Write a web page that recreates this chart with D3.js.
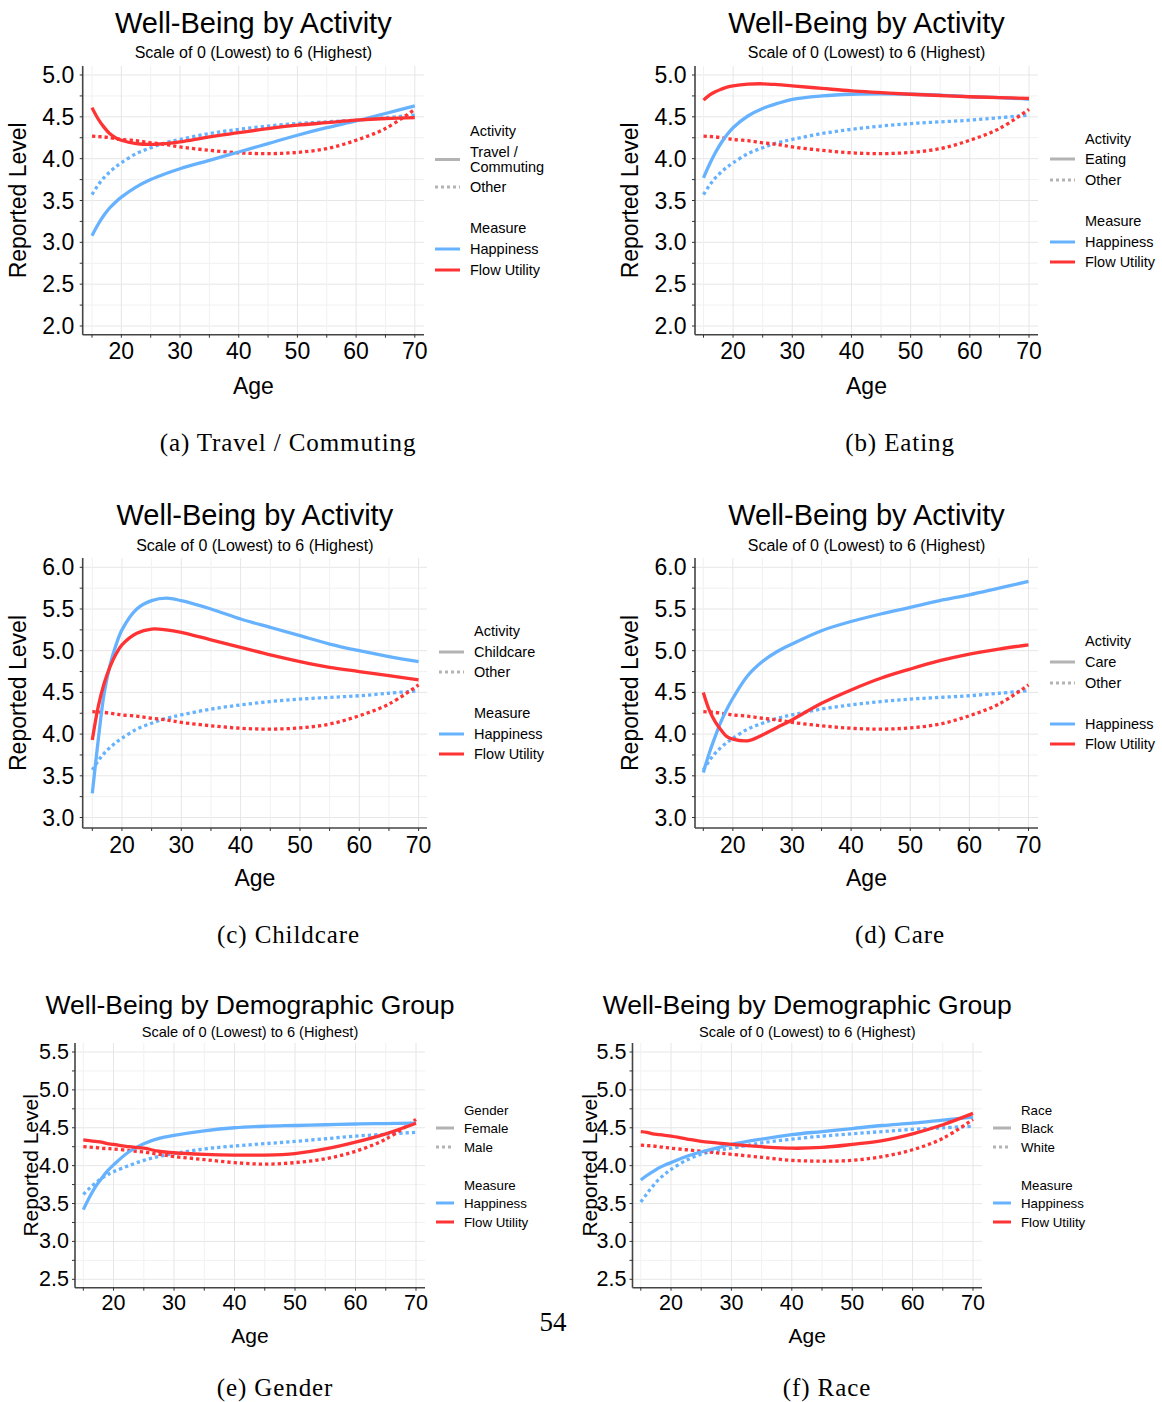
<!DOCTYPE html>
<html>
<head>
<meta charset="utf-8">
<script src="https://cdn.jsdelivr.net/npm/d3@7"></script>
<style>
  body { margin: 0; background: #fff; }
  svg { display: block; }
  text { font-family: "Liberation Sans", Arial, sans-serif; fill: #000; }
</style>
</head>
<body>
<div id="fig"></div>
<script>
const ages = [15, 16, 17, 18, 19, 20, 22.5, 25, 27.5, 30, 35, 40, 45, 50, 55, 60, 65, 70];

// "Other" activity (same in a-d)
const otherHappiness = [3.57, 3.68, 3.77, 3.84, 3.90, 3.95, 4.06, 4.13, 4.19, 4.23, 4.30, 4.35, 4.39, 4.42, 4.44, 4.46, 4.49, 4.52];
const otherFlow      = [4.27, 4.265, 4.26, 4.25, 4.24, 4.23, 4.215, 4.19, 4.17, 4.14, 4.10, 4.07, 4.06, 4.075, 4.12, 4.22, 4.36, 4.59];

const travelHappiness = [3.08, 3.21, 3.32, 3.41, 3.48, 3.54, 3.66, 3.75, 3.82, 3.88, 3.98, 4.08, 4.18, 4.28, 4.37, 4.45, 4.54, 4.63];
const travelFlow      = [4.61, 4.48, 4.38, 4.30, 4.25, 4.22, 4.18, 4.17, 4.18, 4.20, 4.26, 4.31, 4.36, 4.40, 4.43, 4.46, 4.48, 4.49];

const eatingHappiness = [3.77, 3.93, 4.07, 4.19, 4.29, 4.37, 4.51, 4.60, 4.66, 4.71, 4.75, 4.77, 4.775, 4.77, 4.76, 4.74, 4.73, 4.71];
const eatingFlow      = [4.70, 4.76, 4.80, 4.83, 4.855, 4.87, 4.89, 4.895, 4.885, 4.87, 4.84, 4.81, 4.79, 4.77, 4.755, 4.74, 4.73, 4.72];

const childcareHappiness = [3.29, 3.93, 4.49, 4.83, 5.07, 5.25, 5.50, 5.60, 5.63, 5.60, 5.50, 5.38, 5.28, 5.18, 5.08, 5.00, 4.93, 4.87];
const childcareFlow      = [3.93, 4.33, 4.61, 4.81, 4.96, 5.07, 5.21, 5.26, 5.25, 5.22, 5.13, 5.04, 4.95, 4.87, 4.80, 4.75, 4.70, 4.65];

const careHappiness = [3.54, 3.77, 3.97, 4.15, 4.30, 4.43, 4.70, 4.87, 4.99, 5.08, 5.24, 5.35, 5.44, 5.52, 5.60, 5.67, 5.75, 5.83];
const careFlow      = [4.50, 4.29, 4.15, 4.05, 3.97, 3.94, 3.92, 3.99, 4.08, 4.17, 4.37, 4.53, 4.67, 4.78, 4.88, 4.96, 5.02, 5.07];

const femaleHappiness = [3.42, 3.58, 3.72, 3.83, 3.93, 4.01, 4.18, 4.29, 4.36, 4.40, 4.46, 4.50, 4.52, 4.53, 4.54, 4.55, 4.555, 4.56];
const femaleFlow      = [4.34, 4.33, 4.32, 4.31, 4.29, 4.28, 4.25, 4.23, 4.19, 4.17, 4.15, 4.14, 4.14, 4.16, 4.22, 4.31, 4.42, 4.56];
const maleHappiness   = [3.62, 3.70, 3.77, 3.83, 3.88, 3.92, 4.00, 4.07, 4.12, 4.16, 4.22, 4.26, 4.29, 4.32, 4.355, 4.39, 4.415, 4.44];
const maleFlow        = [4.25, 4.245, 4.24, 4.23, 4.225, 4.22, 4.20, 4.18, 4.15, 4.12, 4.08, 4.04, 4.02, 4.04, 4.09, 4.19, 4.35, 4.61];

const blackHappiness = [3.81, 3.87, 3.92, 3.97, 4.01, 4.04, 4.12, 4.18, 4.23, 4.28, 4.35, 4.41, 4.45, 4.49, 4.53, 4.56, 4.60, 4.64];
const blackFlow      = [4.45, 4.44, 4.42, 4.41, 4.40, 4.39, 4.355, 4.32, 4.30, 4.28, 4.25, 4.23, 4.24, 4.28, 4.33, 4.42, 4.54, 4.69];
const whiteHappiness = [3.52, 3.63, 3.73, 3.82, 3.89, 3.95, 4.07, 4.15, 4.20, 4.23, 4.30, 4.35, 4.39, 4.42, 4.45, 4.48, 4.50, 4.52];
const whiteFlow      = [4.27, 4.265, 4.26, 4.25, 4.24, 4.23, 4.21, 4.19, 4.17, 4.15, 4.11, 4.07, 4.06, 4.07, 4.12, 4.21, 4.36, 4.61];

const xTickLabels = [20, 30, 40, 50, 60, 70];
const subtitle = "Scale of 0 (Lowest) to 6 (Highest)";

const blue = "#66b2ff", red = "#ff3333", keyGrey = "#b3b3b3";

const svg = d3.select("#fig").append("svg")
    .attr("width", 1162)
    .attr("height", 1402);

function drawPanel(p) {
    const g = svg.append("g");
    const x = d3.scaleLinear().domain([15, 70]).range([p.x15, p.x70]);
    const y = d3.scaleLinear().domain(p.yDom).range(p.yPx);

    // grid
    const yLo = y.invert(p.bottom), yHi = y.invert(p.top);
    const yGrid = d3.range(Math.ceil(yLo * 4) / 4, yHi, 0.25);
    const xGrid = d3.range(15, 71, 5);

    g.selectAll("line.hg").data(yGrid).enter().append("line")
        .attr("x1", p.left).attr("x2", p.right)
        .attr("y1", d => y(d)).attr("y2", d => y(d))
        .style("stroke", d => (d * 2) % 1 == 0 ? "#e6e6e6" : "#f1f1f1")
        .style("stroke-width", 1);
    g.selectAll("line.vg").data(xGrid).enter().append("line")
        .attr("y1", p.top).attr("y2", p.bottom)
        .attr("x1", d => x(d)).attr("x2", d => x(d))
        .style("stroke", d => d % 10 == 0 ? "#e6e6e6" : "#f1f1f1")
        .style("stroke-width", 1);

    // lines
    const line = d3.line()
        .x(d => x(d[0]))
        .y(d => y(d[1]))
        .curve(d3.curveCatmullRom.alpha(0.5));

    p.series.forEach(s => {
        g.append("path")
            .datum(ages.map((a, i) => [a, s.vals[i]]))
            .attr("d", line)
            .style("fill", "none")
            .style("stroke", s.color)
            .style("stroke-width", 3.3)
            .style("stroke-dasharray", s.dotted ? "3.3,3" : null);
    });

    // axes
    g.append("line")
        .attr("x1", p.left).attr("x2", p.left)
        .attr("y1", p.top).attr("y2", p.bottom)
        .style("stroke", "#444").style("stroke-width", 1.6);
    g.append("line")
        .attr("x1", p.left).attr("x2", p.right)
        .attr("y1", p.bottom).attr("y2", p.bottom)
        .style("stroke", "#444").style("stroke-width", 1.6);

    g.selectAll("line.yt").data(yGrid).enter().append("line")
        .attr("x1", p.left - 3).attr("x2", p.left)
        .attr("y1", d => y(d)).attr("y2", d => y(d))
        .style("stroke", "#333").style("stroke-width", 1);
    g.selectAll("line.xt").data(xGrid).enter().append("line")
        .attr("x1", d => x(d)).attr("x2", d => x(d))
        .attr("y1", p.bottom).attr("y2", p.bottom + 3)
        .style("stroke", "#333").style("stroke-width", 1);

    g.selectAll("text.yl").data(yGrid.filter(d => (d * 2) % 1 == 0)).enter().append("text")
        .attr("x", p.left - p.labGap)
        .attr("y", d => y(d))
        .attr("text-anchor", "end")
        .attr("dominant-baseline", "central")
        .style("font-size", p.tickFs + "px")
        .text(d => d3.format(".1f")(d));
    g.selectAll("text.xl").data(xTickLabels).enter().append("text")
        .attr("x", d => x(d))
        .attr("y", p.xLabY)
        .attr("text-anchor", "middle")
        .attr("dominant-baseline", "central")
        .style("font-size", p.tickFs + "px")
        .text(d => d);

    // axis titles
    g.append("text")
        .attr("transform", "translate(" + p.yTitleX + "," + (p.top + p.bottom) / 2 + ") rotate(-90)")
        .attr("text-anchor", "middle")
        .attr("dominant-baseline", "central")
        .style("font-size", p.axisFs + "px")
        .text("Reported Level");
    g.append("text")
        .attr("x", (p.left + p.right) / 2)
        .attr("y", p.xTitleY)
        .attr("text-anchor", "middle")
        .attr("dominant-baseline", "central")
        .style("font-size", p.axisFs + "px")
        .text("Age");

    // titles
    const cx = (p.left + p.right) / 2;
    g.append("text")
        .attr("x", cx).attr("y", p.titleY)
        .attr("text-anchor", "middle")
        .attr("dominant-baseline", "central")
        .style("font-size", p.titleFs + "px")
        .text(p.title);
    g.append("text")
        .attr("x", cx).attr("y", p.subY)
        .attr("text-anchor", "middle")
        .attr("dominant-baseline", "central")
        .style("font-size", p.subFs + "px")
        .text(subtitle);

    // legend
    p.legend.forEach(e => {
        g.append("text")
            .attr("x", p.legX + p.keyLen + 10)
            .attr("y", e[1])
            .attr("dominant-baseline", "central")
            .style("font-size", p.legFs + "px")
            .text(e[0]);
        if (e[2]) {
            const ky = e[3] != null ? e[3] : e[1];
            g.append("line")
                .attr("x1", p.legX).attr("x2", p.legX + p.keyLen)
                .attr("y1", ky).attr("y2", ky)
                .style("stroke", e[2] == "blue" ? blue : e[2] == "red" ? red : keyGrey)
                .style("stroke-width", 3)
                .style("stroke-dasharray", e[2] == "dotted" ? "3,3" : null);
        }
    });

    // caption
    g.append("text")
        .attr("x", p.capX).attr("y", p.capY)
        .attr("text-anchor", "middle")
        .attr("dominant-baseline", "central")
        .style("font-family", "'Liberation Serif', 'Times New Roman', serif")
        .style("font-size", "25px")
        .style("letter-spacing", "0.9px")
        .text(p.caption);
}

const topRow = {top: 66, bottom: 334.7, yDom: [2, 5], yPx: [326, 75], xLabY: 351, xTitleY: 386,
    titleY: 23, subY: 52, capY: 442};
const midRow = {top: 558, bottom: 828, yDom: [3, 6], yPx: [817.5, 567.3], xLabY: 845, xTitleY: 878,
    titleY: 515, subY: 545, capY: 934};
const botRow = {top: 1043, bottom: 1287.7, yDom: [2.5, 5.5], yPx: [1279.3, 1052], xLabY: 1303, xTitleY: 1335,
    titleY: 1005, subY: 1032, capY: 1387};

const bigFonts = {titleFs: 29, subFs: 16, tickFs: 23, axisFs: 23, legFs: 14.5, labGap: 8.5, keyLen: 25};
const smallFonts = {titleFs: 26.5, subFs: 14.6, tickFs: 21.5, axisFs: 21, legFs: 13.3, labGap: 6, keyLen: 18};

function actSeries(h, f) {
    return [
        {vals: otherHappiness, color: blue, dotted: true},
        {vals: otherFlow, color: red, dotted: true},
        {vals: h, color: blue},
        {vals: f, color: red}
    ];
}

const panels = [
    Object.assign({}, topRow, bigFonts, {
        left: 82.7, right: 424, x15: 92, x70: 414.8, yTitleX: 18,
        title: "Well-Being by Activity", caption: "(a) Travel / Commuting", capX: 288,
        series: actSeries(travelHappiness, travelFlow),
        legX: 435,
        legend: [["Activity", 131], ["Travel /", 152, "solid", 159.5], ["Commuting", 167], ["Other", 187, "dotted"],
                 ["Measure", 228], ["Happiness", 249, "blue"], ["Flow Utility", 270, "red"]]
    }),
    Object.assign({}, topRow, bigFonts, {
        left: 695, right: 1038, x15: 703.5, x70: 1029, yTitleX: 630,
        title: "Well-Being by Activity", caption: "(b) Eating", capX: 900,
        series: actSeries(eatingHappiness, eatingFlow),
        legX: 1050,
        legend: [["Activity", 139], ["Eating", 159, "solid"], ["Other", 180, "dotted"],
                 ["Measure", 221], ["Happiness", 242, "blue"], ["Flow Utility", 262, "red"]]
    }),
    Object.assign({}, midRow, bigFonts, {
        left: 82.7, right: 427, x15: 92.3, x70: 418.6, yTitleX: 18,
        title: "Well-Being by Activity", caption: "(c) Childcare", capX: 288.5,
        series: actSeries(childcareHappiness, childcareFlow),
        legX: 439,
        legend: [["Activity", 631], ["Childcare", 652, "solid"], ["Other", 672, "dotted"],
                 ["Measure", 713], ["Happiness", 734, "blue"], ["Flow Utility", 754, "red"]]
    }),
    Object.assign({}, midRow, bigFonts, {
        left: 695, right: 1038, x15: 703.3, x70: 1028.5, yTitleX: 630,
        title: "Well-Being by Activity", caption: "(d) Care", capX: 900,
        series: actSeries(careHappiness, careFlow),
        legX: 1050,
        legend: [["Activity", 641], ["Care", 662, "solid"], ["Other", 683, "dotted"],
                 ["Happiness", 724, "blue"], ["Flow Utility", 744, "red"]]
    }),
    Object.assign({}, botRow, smallFonts, {
        left: 75, right: 425, x15: 83.3, x70: 416, yTitleX: 30,
        title: "Well-Being by Demographic Group", caption: "(e) Gender", capX: 275,
        series: [
            {vals: maleHappiness, color: blue, dotted: true},
            {vals: maleFlow, color: red, dotted: true},
            {vals: femaleHappiness, color: blue},
            {vals: femaleFlow, color: red}
        ],
        legX: 436,
        legend: [["Gender", 1110], ["Female", 1128, "solid"], ["Male", 1147, "dotted"],
                 ["Measure", 1185], ["Happiness", 1203, "blue"], ["Flow Utility", 1222, "red"]]
    }),
    Object.assign({}, botRow, smallFonts, {
        left: 632.5, right: 982, x15: 640.8, x70: 973, yTitleX: 589,
        title: "Well-Being by Demographic Group", caption: "(f) Race", capX: 827,
        series: [
            {vals: whiteHappiness, color: blue, dotted: true},
            {vals: whiteFlow, color: red, dotted: true},
            {vals: blackHappiness, color: blue},
            {vals: blackFlow, color: red}
        ],
        legX: 993,
        legend: [["Race", 1110], ["Black", 1128, "solid"], ["White", 1147, "dotted"],
                 ["Measure", 1185], ["Happiness", 1203, "blue"], ["Flow Utility", 1222, "red"]]
    })
];

panels.forEach(drawPanel);

// page number
svg.append("text")
    .attr("x", 553).attr("y", 1322)
    .attr("text-anchor", "middle")
    .attr("dominant-baseline", "central")
    .style("font-family", "'Liberation Serif', 'Times New Roman', serif")
    .style("font-size", "27px")
    .text("54");
</script>
</body>
</html>
